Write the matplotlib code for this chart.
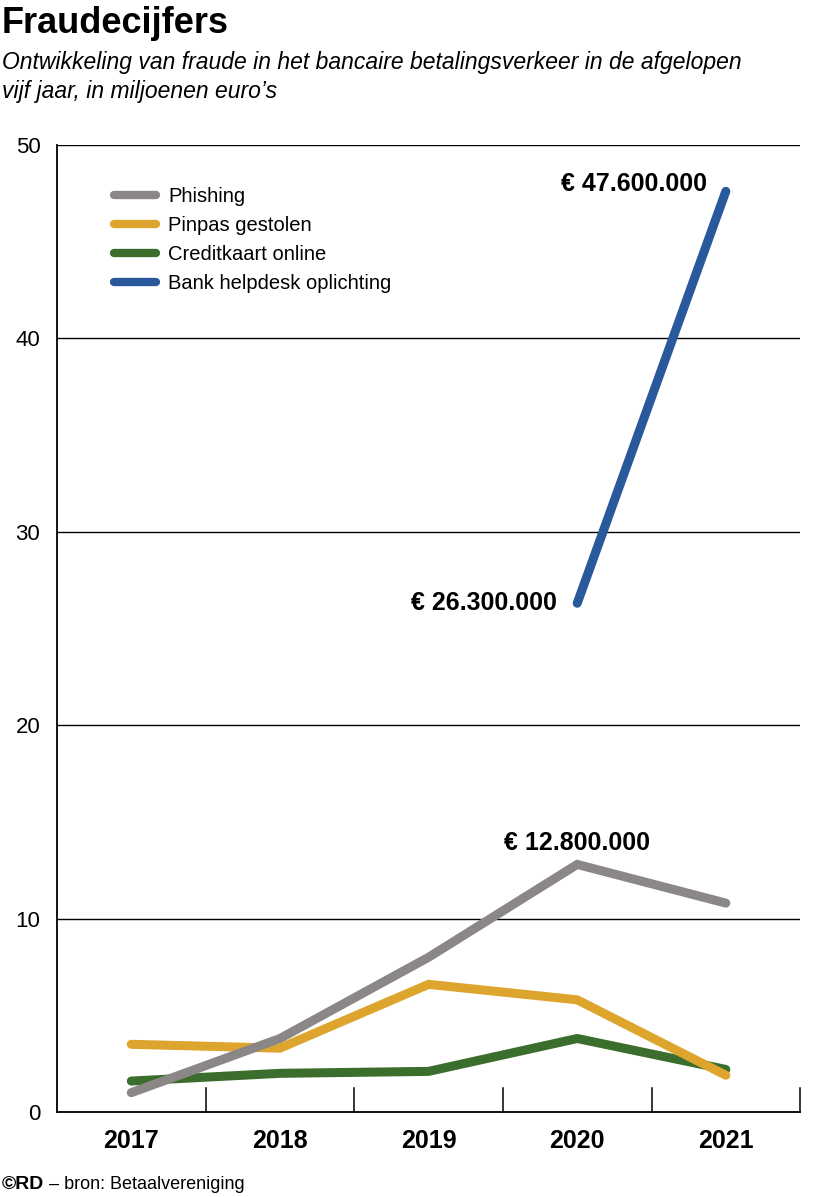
import matplotlib.pyplot as plt
from matplotlib.lines import Line2D

plt.rcParams['font.family'] = ['Liberation Sans', 'DejaVu Sans']

years = ["2017", "2018", "2019", "2020", "2021"]
phishing = [1.0, 3.8, 8.0, 12.8, 10.8]
pinpas = [3.5, 3.3, 6.6, 5.8, 1.9]
creditkaart = [1.6, 2.0, 2.1, 3.8, 2.2]
helpdesk_years = ["2020", "2021"]
helpdesk = [26.3, 47.6]

series_names = ["Phishing", "Pinpas gestolen", "Creditkaart online", "Bank helpdesk oplichting"]
colors = ["#8a8786", "#dea52e", "#3b6e2c", "#29599a"]
yticks = [0, 10, 20, 30, 40, 50]

fig = plt.figure(figsize=(8.14, 11.97), dpi=100)
ax = fig.add_axes([0.070, 0.071, 0.913, 0.808])

x = list(range(len(years)))
xh = [years.index(y) for y in helpdesk_years]
lw = 6.5
for vals, xs, c in [(creditkaart, x, colors[2]), (pinpas, x, colors[1]),
                    (phishing, x, colors[0]), (helpdesk, xh, colors[3])]:
    ax.plot(xs, vals, color=c, lw=lw, solid_capstyle='round', solid_joinstyle='miter', zorder=3)

ax.set_xlim(-0.5, 4.5)
ax.set_ylim(0, 50)
ax.set_yticks(yticks)
ax.set_yticklabels([str(v) for v in yticks], fontsize=16)
ax.set_xticks(x)
ax.set_xticklabels(years, fontsize=18, fontweight='bold')
ax.tick_params(axis='x', length=0, pad=12)
ax.tick_params(axis='y', length=0, pad=12)
for v in yticks[1:]:
    ax.axhline(v, color='black', lw=1.0, zorder=1)
ax.spines['right'].set_visible(False)
ax.spines['top'].set_visible(False)
for s in ['left', 'bottom']:
    ax.spines[s].set_linewidth(1.3)
# separators between years
for i in range(len(years)):
    ax.plot([i + 0.5, i + 0.5], [0, 1.25], color='black', lw=1.1, zorder=2, clip_on=False)

# annotations
ax.text(3.87, 48.0, "€ 47.600.000", ha='right', va='center', fontsize=18, fontweight='bold')
ax.text(2.86, 26.3, "€ 26.300.000", ha='right', va='center', fontsize=18, fontweight='bold')
ax.text(3.0, 13.9, "€ 12.800.000", ha='center', va='center', fontsize=18, fontweight='bold')

handles = [Line2D([0], [0], color=c, lw=6, solid_capstyle='round') for c in colors]
leg = ax.legend(handles, series_names, loc='upper left', bbox_to_anchor=(0.052, 0.975),
                frameon=False, fontsize=14.5, handlelength=2.1, handletextpad=0.6,
                labelspacing=0.5)

fig.text(0.002, 0.995, "Fraudecijfers", fontsize=26, fontweight='bold', va='top')
fig.text(0.002, 0.957, "Ontwikkeling van fraude in het bancaire betalingsverkeer in de afgelopen\nvijf jaar, in miljoenen euro\u2019s",
         fontsize=16.5, style='italic', va='top', linespacing=1.3)
fig.text(0.002, 0.003, "\u00a9RD", fontsize=14, fontweight='bold', va='bottom')
fig.text(0.060, 0.003, "\u2013 bron: Betaalvereniging", fontsize=13, va='bottom')

fig.savefig("out.png", dpi=100)
